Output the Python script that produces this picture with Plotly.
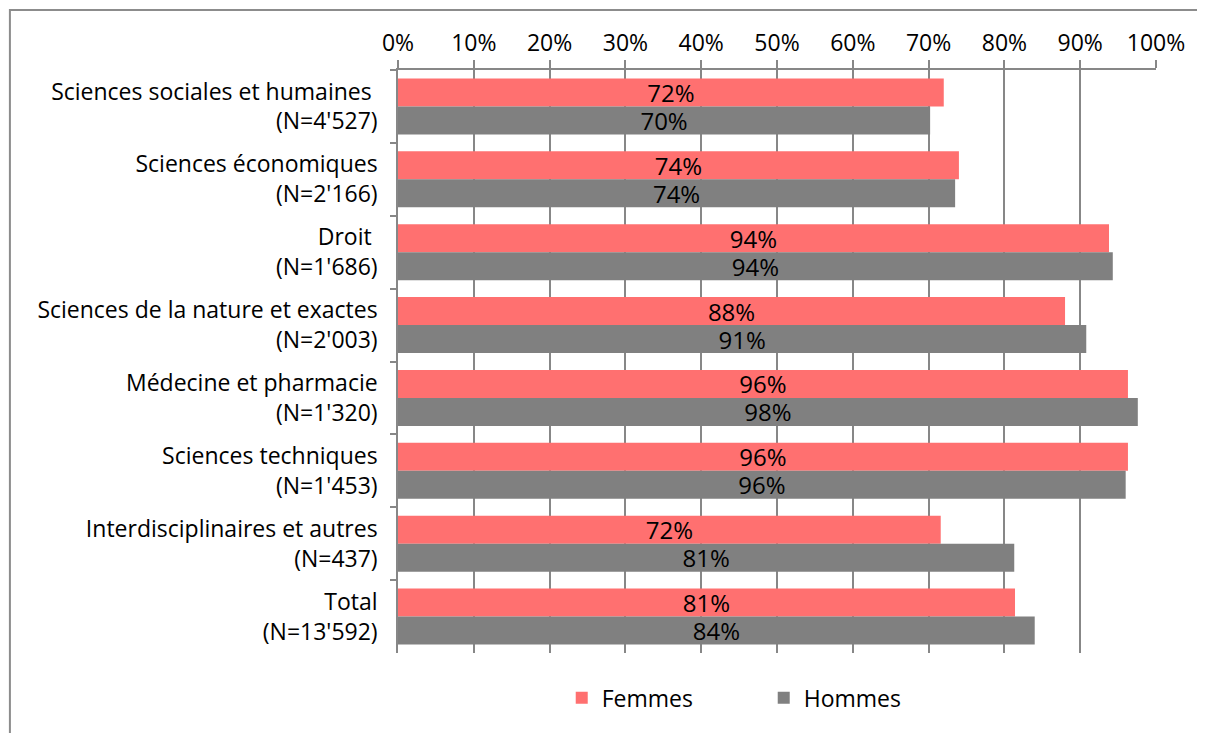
import plotly.graph_objects as go

categories = [
    "Sciences sociales et humaines\u00a0<br>(N=4'527)",
    "Sciences économiques<br>(N=2'166)",
    "Droit\u00a0<br>(N=1'686)",
    "Sciences de la nature et exactes<br>(N=2'003)",
    "Médecine et pharmacie<br>(N=1'320)",
    "Sciences techniques<br>(N=1'453)",
    "Interdisciplinaires et autres<br>(N=437)",
    "Total<br>(N=13'592)",
]
femmes = [72.0, 74.0, 93.8, 88.0, 96.3, 96.3, 71.6, 81.4]
hommes = [70.2, 73.5, 94.3, 90.8, 97.6, 96.0, 81.3, 84.0]
x_ticks = [0, 10, 20, 30, 40, 50, 60, 70, 80, 90, 100]
x_tick_labels = [f"{v}%" for v in x_ticks]

FONT = "Open Sans"
GRID = "#878787"

fig = go.Figure()
fig.add_trace(go.Bar(
    y=categories, x=femmes, name="Femmes", orientation="h",
    marker=dict(color="#FF7070", line=dict(width=0)),
    texttemplate="%{x:.0f}%", textposition="inside", insidetextanchor="middle",
    textfont=dict(family=FONT, size=24, color="black"),
))
fig.add_trace(go.Bar(
    y=categories, x=hommes, name="Hommes", orientation="h",
    marker=dict(color="#808080", line=dict(width=0)),
    texttemplate="%{x:.0f}%", textposition="inside", insidetextanchor="middle",
    textfont=dict(family=FONT, size=24, color="black"),
))

fig.update_layout(
    width=1197, height=725,
    margin=dict(l=390, r=49, t=62, b=80),
    paper_bgcolor="white", plot_bgcolor="white",
    barmode="group", bargap=0.233, bargroupgap=0,
    font=dict(family=FONT, size=23, color="black"),
    uniformtext=dict(minsize=24, mode="show"),
    showlegend=True,
    legend=dict(orientation="h", x=0.216, xanchor="left", y=-0.077, yanchor="middle",
                font=dict(family=FONT, size=23, color="black"),
                entrywidth=157, entrywidthmode="pixels", traceorder="normal",
                itemwidth=30),
    xaxis=dict(side="top", range=[0, 100], tickvals=x_ticks, ticktext=x_tick_labels,
               showgrid=True, gridcolor=GRID, gridwidth=1.5,
               showline=True, linecolor=GRID, linewidth=1.5,
               ticks="outside", ticklen=8, tickcolor=GRID, tickwidth=1.5,
               zeroline=False, tickfont=dict(family=FONT, size=23, color="black")),
    yaxis=dict(autorange="reversed", showline=True, linecolor=GRID, linewidth=1.5,
               ticks="outside", ticklen=6, tickcolor=GRID, tickwidth=1.5,
               tickson="boundaries", showgrid=False, ticklabelstandoff=14,
               tickfont=dict(family=FONT, size=23, color="black")),
)

fig.add_shape(type="rect", xref="paper", yref="paper",
              x0=-0.512, y0=-0.4, x1=1.4, y1=1.103,
              line=dict(color="#8C8C8C", width=2), fillcolor="rgba(0,0,0,0)", layer="below")

fig.write_html("out.html")
